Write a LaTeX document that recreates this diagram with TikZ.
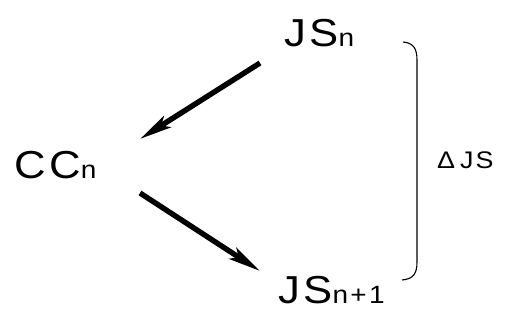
\documentclass[tikz,border=0pt]{standalone}
\usepackage{fontspec}
\setmainfont{Liberation Sans}[FakeStretch=1.12,LetterSpace=9]
\usetikzlibrary{arrows.meta}
\newcommand\bigtxt{\fontsize{39}{39}\selectfont}
\newcommand\subtxt[1]{{\fontsize{25}{25}\selectfont #1}}
\begin{document}
\begin{tikzpicture}[x=1pt,y=-1pt,
  lbl/.style={anchor=base west,inner sep=0pt,font=\bigtxt},
  fat/.style={line width=5.4pt,-{Stealth[length=32pt,width=13pt,inset=7pt]}},
  brace/.style={line width=1.1pt}]
\useasboundingbox (0,0) rectangle (509,327);
\node[lbl] (jsn) at (284,46) {JS\subtxt{n}};
\node[lbl] (ccn) at (14,178) {CC\subtxt{n}};
\node[lbl] (jsn1) at (278,303) {JS\subtxt{n+1}};
\node[anchor=base west,inner sep=0pt,font=\fontsize{24}{24}\selectfont] (djs) at (437,168) {Δ\hspace{5pt}JS};
\coordinate (a1s) at (260,63);
\coordinate (a1e) at (140,139);
\coordinate (a2s) at (140,193);
\coordinate (a2e) at (260,271);
\draw[fat] (a1s) -- (a1e);
\draw[fat] (a2s) -- (a2e);
\coordinate (bt) at (403,42);
\coordinate (bb) at (402,280);
\draw[brace] (bt) .. controls (413,43) and (417,48) .. (417,60) -- (417,262) .. controls (417,274) and (413,279) .. (bb);
\end{tikzpicture}
\end{document}
